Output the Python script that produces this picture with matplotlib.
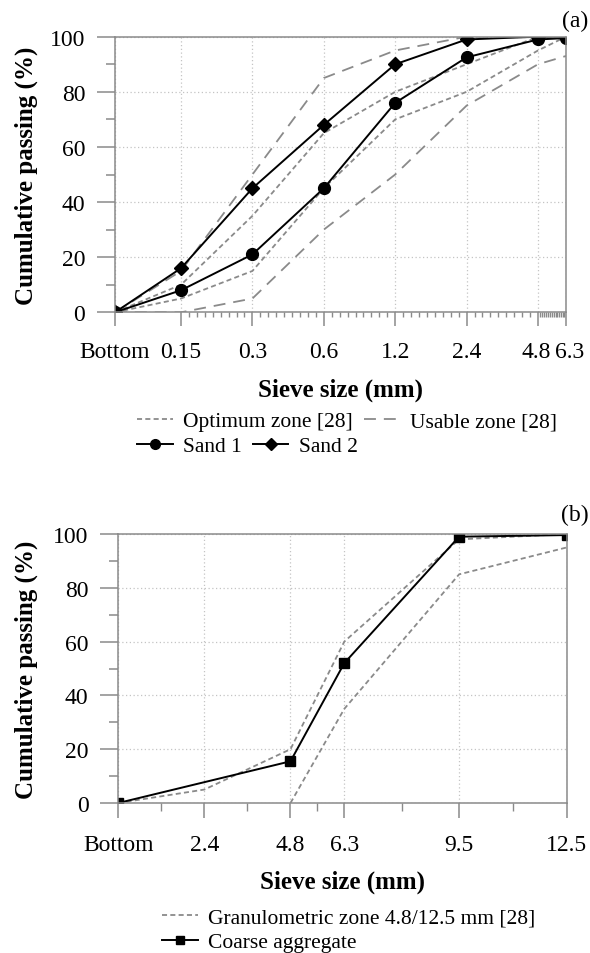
import matplotlib
matplotlib.use("Agg")
import matplotlib.pyplot as plt
import matplotlib.transforms as mtransforms
import numpy as np
from matplotlib.lines import Line2D
from matplotlib.ticker import FixedLocator, NullFormatter, MultipleLocator

plt.rcParams['font.family'] = ['Liberation Serif', 'DejaVu Serif']

# ---------------- data: (a) fine aggregate ----------------
sieve_a = [0.15, 0.3, 0.6, 1.2, 2.4, 4.8, 6.3]
labels_a = ["Bottom", "0.15", "0.3", "0.6", "1.2", "2.4", "4.8", "6.3"]
sand1 = [0, 8, 21, 45, 76, 92.5, 99, 99.5]
sand2 = [0, 16, 45, 68, 90, 99, 100, 100]
opt_upper = [0, 10, 35, 65, 80, 90, 100, 100]
opt_lower = [0, 5, 15, 45, 70, 80, 95, 100]
use_upper = [0, 15, 50, 85, 95, 100, 100, 100]
use_lower = [0, 0, 5, 30, 50, 75, 90, 93]

# ---------------- data: (b) coarse aggregate ----------------
sieve_b = [0, 2.4, 4.8, 6.3, 9.5, 12.5]
labels_b = ["Bottom", "2.4", "4.8", "6.3", "9.5", "12.5"]
zone_upper = [0, 5, 20, 60, 98, 100]
zone_lower_x = [4.8, 6.3, 9.5, 12.5]
zone_lower = [0, 35, 85, 95]
coarse_x = [0, 4.8, 6.3, 9.5, 12.5]
coarse = [0, 15.5, 52, 99, 99.6]

# ---------------- layout ----------------
W, H = 590, 954
BOTTOM_POS_A = 0.079  # where "Bottom" sits on the log axis
GRAY = '#8a8a8a'
GRID = '#c4c4c4'
DASH_S = (0, (2.8, 1.8))
DASH_L = (0, (6.6, 4.4))
FS_TICK = 17
FS_LAB = 18
FS_LEG = 15.5

fig = plt.figure(figsize=(W / 100, H / 100), dpi=100)


def rect(l, r, t, b):
    return [l / W, 1 - b / H, (r - l) / W, (b - t) / H]


def style_axes(ax, xmaj_len, xmin_len):
    for s in ax.spines.values():
        s.set_color(GRAY)
        s.set_linewidth(1.1)
    ax.set_ylim(0, 100)
    ax.yaxis.set_major_locator(MultipleLocator(20))
    ax.yaxis.set_minor_locator(MultipleLocator(10))
    ax.tick_params(axis='y', which='major', length=13, width=1.1, color=GRAY,
                   labelsize=FS_TICK, pad=8.5)
    ax.tick_params(axis='y', which='minor', length=6.5, width=1.1, color=GRAY)
    ax.tick_params(axis='x', which='major', length=xmaj_len, width=1.1, color=GRAY,
                   labelsize=FS_TICK, pad=11)
    ax.tick_params(axis='x', which='minor', length=xmin_len, width=1.0, color=GRAY)
    ax.grid(True, which='major', ls=(0, (1, 2)), color=GRID, lw=0.9)
    ax.set_axisbelow(True)


# ---------------- (a) ----------------
axA = fig.add_axes(rect(115, 566, 37.7, 313.3))
xa = [BOTTOM_POS_A] + sieve_a
axA.set_xscale('log')
axA.set_xlim(BOTTOM_POS_A, sieve_a[-1])
style_axes(axA, 10, 3.6)
axA.set_xticks(xa)
axA.set_xticklabels(labels_a)
minor_a = []
for lo, hi in zip(sieve_a[:-2], sieve_a[1:-1]):
    minor_a += list(np.geomspace(lo, hi, 10)[1:-1])
minor_a += list(np.arange(sieve_a[-2] + 0.1, sieve_a[-1] - 0.05, 0.1))
axA.xaxis.set_minor_locator(FixedLocator(minor_a))
axA.xaxis.set_minor_formatter(NullFormatter())

# nudge the two crowded last labels apart
fig.canvas.draw()
tl = axA.get_xticklabels()
tl[-2].set_transform(tl[-2].get_transform() +
                     mtransforms.ScaledTranslation(-2 / 100, 0, fig.dpi_scale_trans))
tl[-1].set_transform(tl[-1].get_transform() +
                     mtransforms.ScaledTranslation(4 / 100, 0, fig.dpi_scale_trans))

axA.plot(xa, opt_upper, color=GRAY, lw=1.3, ls=DASH_S)
axA.plot(xa, opt_lower, color=GRAY, lw=1.3, ls=DASH_S)
axA.plot(xa, use_upper, color=GRAY, lw=1.3, ls=DASH_L)
axA.plot(xa, use_lower, color=GRAY, lw=1.3, ls=DASH_L)
axA.plot(xa, sand1, color='black', lw=1.4, marker='o', ms=8.5)
axA.plot(xa, sand2, color='black', lw=1.4, marker='D', ms=7.5)

fig.text(340.5 / W, 1 - 390 / H, 'Sieve size (mm)', fontsize=FS_LAB, fontweight='bold',
         ha='center', va='center')
fig.text(26 / W, 1 - 175.5 / H, 'Cumulative passing (%)', fontsize=FS_LAB,
         fontweight='bold', rotation=90, ha='center', va='center')
fig.text(575 / W, 1 - 21 / H, '(a)', fontsize=FS_TICK, ha='center', va='center')

h_opt = Line2D([], [], color=GRAY, lw=1.3, ls=DASH_S)
h_use = Line2D([], [], color=GRAY, lw=1.3, ls=DASH_L)
h_s1 = Line2D([], [], color='black', lw=1.4, marker='o', ms=7)
h_s2 = Line2D([], [], color='black', lw=1.4, marker='D', ms=6.5)
legkw = dict(loc='center left', frameon=False, fontsize=FS_LEG, handlelength=1.65,
             handletextpad=0.5, columnspacing=0.5, borderpad=0, borderaxespad=0, ncol=2)
fig.legend([h_opt, h_use], ['Optimum zone [28]', 'Usable zone [28]'],
           bbox_to_anchor=(137 / W, 1 - 422 / H), **legkw)
fig.legend([h_s1, h_s2], ['Sand 1', 'Sand 2'],
           bbox_to_anchor=(137 / W, 1 - 447 / H), **legkw)

# ---------------- (b) ----------------
axB = fig.add_axes(rect(118.3, 566.7, 535, 804))
axB.set_xlim(sieve_b[0], sieve_b[-1])
style_axes(axB, 11, 5.5)
axB.set_xticks(sieve_b)
axB.set_xticklabels(labels_b)
minor_b = [(a + b) / 2 for a, b in zip(sieve_b[:-1], sieve_b[1:])]
axB.xaxis.set_minor_locator(FixedLocator(minor_b))
axB.xaxis.set_minor_formatter(NullFormatter())

axB.plot(sieve_b, zone_upper, color=GRAY, lw=1.3, ls=DASH_S)
axB.plot(zone_lower_x, zone_lower, color=GRAY, lw=1.3, ls=DASH_S)
axB.plot(coarse_x, coarse, color='black', lw=1.4, marker='s', ms=7)

fig.text(342.5 / W, 1 - 882 / H, 'Sieve size (mm)', fontsize=FS_LAB, fontweight='bold',
         ha='center', va='center')
fig.text(26 / W, 1 - 669.5 / H, 'Cumulative passing (%)', fontsize=FS_LAB,
         fontweight='bold', rotation=90, ha='center', va='center')
fig.text(575 / W, 1 - 515 / H, '(b)', fontsize=FS_TICK, ha='center', va='center')

h_zone = Line2D([], [], color=GRAY, lw=1.3, ls=DASH_S)
h_co = Line2D([], [], color='black', lw=1.4, marker='s', ms=6)
fig.legend([h_zone], ['Granulometric zone 4.8/12.5 mm [28]'],
           bbox_to_anchor=(162 / W, 1 - 918 / H), **legkw)
fig.legend([h_co], ['Coarse aggregate'],
           bbox_to_anchor=(162 / W, 1 - 943 / H), **legkw)

fig.savefig('out.png', dpi=100, facecolor='white')
